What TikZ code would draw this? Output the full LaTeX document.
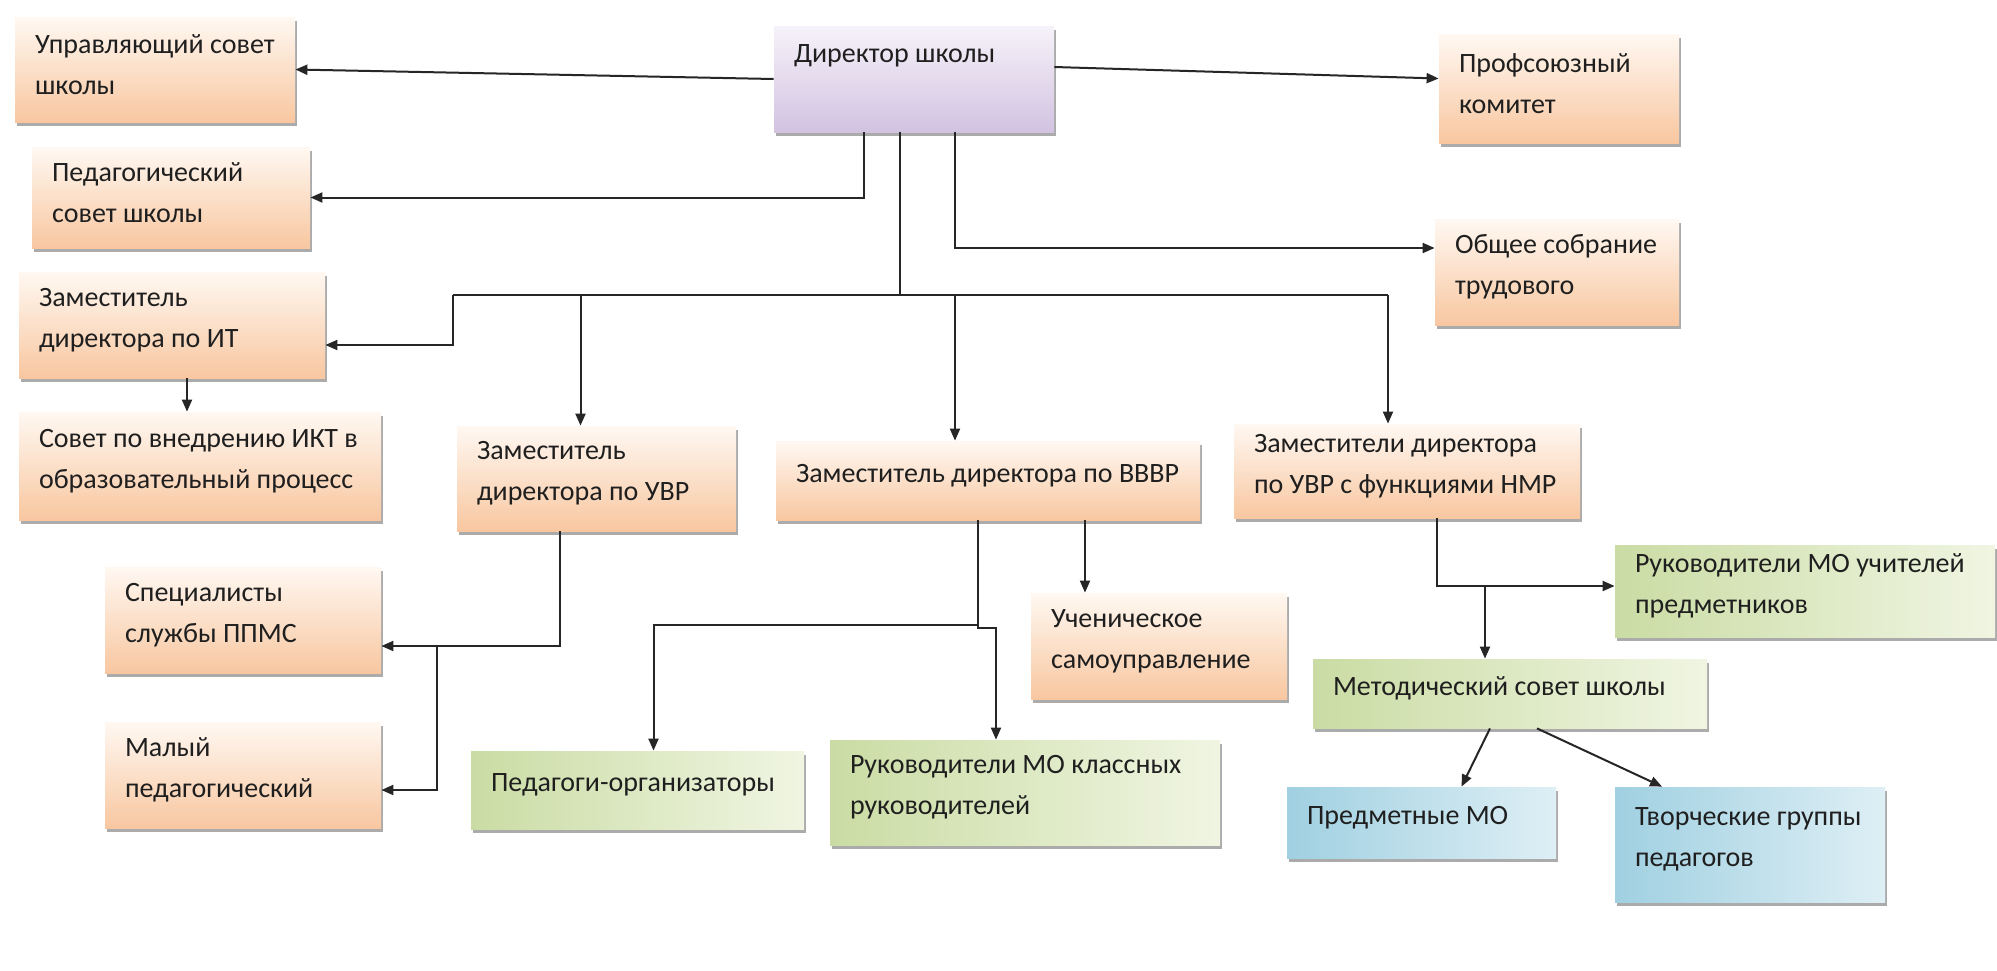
\documentclass[tikz,border=0pt]{standalone}
\usepackage{fontspec}
\setmainfont{Carlito}
\usetikzlibrary{arrows.meta,calc,shadows}
\definecolor{peachtop}{RGB}{255,248,242}
\definecolor{peach}{RGB}{248,199,160}
\definecolor{lavtop}{RGB}{246,242,249}
\definecolor{lav}{RGB}{210,195,225}
\definecolor{grl}{RGB}{202,220,164}
\definecolor{grr}{RGB}{240,245,226}
\definecolor{bll}{RGB}{160,208,225}
\definecolor{blr}{RGB}{222,239,245}
\newcommand\bt[2]{\parbox{#1}{\raggedright\leftskip=10pt\relax #2\par\vspace{5pt}}}
\tikzset{
  x=0.5pt, y=-0.5pt,
  base/.style={inner sep=0pt, text=black!88, font=\fontsize{14}{20.5}\selectfont,
    drop shadow={shadow xshift=1pt, shadow yshift=-2pt, fill=black!60, opacity=0.55}},
  obox/.style={base, top color=peachtop, bottom color=peach},
  lbox/.style={base, top color=lavtop, bottom color=lav},
  gbox/.style={base, left color=grl, right color=grr},
  bbox/.style={base, left color=bll, right color=blr},
  conn/.style={draw=black!85, line width=1pt},
  arr/.style={conn, -{Triangle[length=6pt,width=5pt]}}
}
\begin{document}
\begin{tikzpicture}
\fill[white] (0,0) rectangle (1997,970);
\useasboundingbox (0,0) rectangle (1997,970);

\node[obox, minimum width=140pt, minimum height=52.5pt] (usovet) at (155,69.5) {\bt{140pt}{Управляющий совет\\школы}};
\node[lbox, minimum width=140pt, minimum height=53pt] (dir) at (914,79) {\bt{140pt}{Директор школы\\\mbox{}}};
\node[obox, minimum width=120pt, minimum height=54.5pt] (prof) at (1559,88.5) {\bt{120pt}{Профсоюзный\\комитет}};
\node[obox, minimum width=139pt, minimum height=50.5pt] (pedsov) at (171,197.5) {\bt{139pt}{Педагогический\\совет школы}};
\node[obox, minimum width=122pt, minimum height=53pt] (obshee) at (1557,272) {\bt{122pt}{Общее собрание\\трудового}};
\node[obox, minimum width=153pt, minimum height=53pt] (zit) at (172,325) {\bt{153pt}{Заместитель\\директора по ИТ}};
\node[obox, minimum width=181pt, minimum height=54pt] (ikt) at (200,466) {\bt{181pt}{Совет по внедрению ИКТ в\\образовательный процесс}};
\node[obox, minimum width=139.5pt, minimum height=52.5pt] (zuvr) at (596.5,478.5) {\bt{139.5pt}{Заместитель\\директора по УВР}};
\node[obox, minimum width=212pt, minimum height=39.5pt] (zvvvr) at (988,480.5) {\bt{212pt}{Заместитель директора по ВВВР}};
\node[obox, minimum width=173pt, minimum height=47pt] (znmr) at (1407,471) {\bt{173pt}{Заместители директора\\по УВР с функциями НМР}};
\node[obox, minimum width=138pt, minimum height=53pt] (ppms) at (243,620) {\bt{138pt}{Специалисты\\службы ППМС}};
\node[obox, minimum width=138pt, minimum height=53pt] (malyi) at (243,775) {\bt{138pt}{Малый\\педагогический}};
\node[obox, minimum width=128pt, minimum height=53pt] (uchen) at (1159,646) {\bt{128pt}{Ученическое\\самоуправление}};
\node[gbox, minimum width=166.5pt, minimum height=39pt] (pedorg) at (637.5,790) {\bt{166.5pt}{Педагоги-организаторы}};
\node[gbox, minimum width=195pt, minimum height=52.5pt] (rukkl) at (1025,792.5) {\bt{195pt}{Руководители МО классных\\руководителей}};
\node[gbox, minimum width=190pt, minimum height=46pt] (rukpred) at (1805,591) {\bt{190pt}{Руководители МО учителей\\предметников}};
\node[gbox, minimum width=197pt, minimum height=34.5pt] (metod) at (1510,693.5) {\bt{197pt}{Методический совет школы}};
\node[bbox, minimum width=134.5pt, minimum height=35.5pt] (predmo) at (1421.5,822.5) {\bt{134.5pt}{Предметные МО}};
\node[bbox, minimum width=135pt, minimum height=57.5pt] (tvorch) at (1750,844.5) {\bt{135pt}{Творческие группы\\педагогов}};

% director links
\draw[arr] (dir.west) -- (usovet.east);
\draw[arr] ($(dir.east)+(0,-12)$) -- ($(prof.west)+(0,-10)$);
\draw[arr] ($(dir.south)+(-50,0)$) |- (pedsov.east);
\draw[arr] ($(dir.south)+(41,0)$) |- ($(obshee.west)+(0,-24)$);

% bus
\coordinate (b0) at (900,295);
\coordinate (bL) at (453,295);
\coordinate (bR) at (1388,295);
\draw[conn] ($(dir.south)+(-14,0)$) -- (b0);
\draw[conn] (bL) -- (bR);
\draw[arr] (bL) |- ($(zit.east)+(0,20)$);
\path ($(zuvr.north)+(-16,0)$) coordinate (zuvrIn);
\draw[arr] (zuvrIn |- b0) -- (zuvrIn);
\path ($(zvvvr.north)+(-33,0)$) coordinate (zvIn);
\draw[arr] (zvIn |- b0) -- (zvIn);
\draw[arr] (bR) -- (bR |- znmr.north);

% IT
\path ($(zit.south)+(15,0)$) coordinate (zitOut);
\draw[arr] (zitOut) -- (zitOut |- ikt.north);

% UVR
\path ($(zuvr.south)+(-36.5,0)$) coordinate (uOut);
\path ($(ppms.east)+(0,26)$) coordinate (ppIn);
\path ($(malyi.east)+(0,15)$) coordinate (mIn);
\draw[arr] (uOut) |- (ppIn);
\draw[arr] ($(ppIn)+(56,0)$) |- (mIn);

% VVVR
\path ($(zvvvr.south)+(-10,0)$) coordinate (vOut);
\coordinate (vJ) at (978,625);
\path ($(pedorg.north)+(16,0)$) coordinate (poIn);
\path ($(rukkl.north)+(-29,0)$) coordinate (rkIn);
\draw[conn] (vOut) -- (vJ);
\draw[arr] (vJ) -| (poIn);
\draw[arr] (vJ) -- ($(vJ)+(0,3)$) -| (rkIn);
\path ($(zvvvr.south)+(97,0)$) coordinate (uchOut);
\draw[arr] (uchOut) -- (uchOut |- uchen.north);

% NMR
\path ($(znmr.south)+(30,0)$) coordinate (nOut);
\path ($(rukpred.west)+(0,-5)$) coordinate (rpIn);
\draw[arr] (nOut) |- (rpIn);
\path ($(metod.north)+(-25,0)$) coordinate (mtIn);
\draw[arr] (mtIn |- rpIn) -- (mtIn);

% methodical council
\draw[arr] ($(metod.south)+(-20,0)$) -- ($(predmo.north)+(40,0)$);
\draw[arr] ($(metod.south)+(27,0)$) -- ($(tvorch.north)+(-88,0)$);
\end{tikzpicture}
\end{document}
